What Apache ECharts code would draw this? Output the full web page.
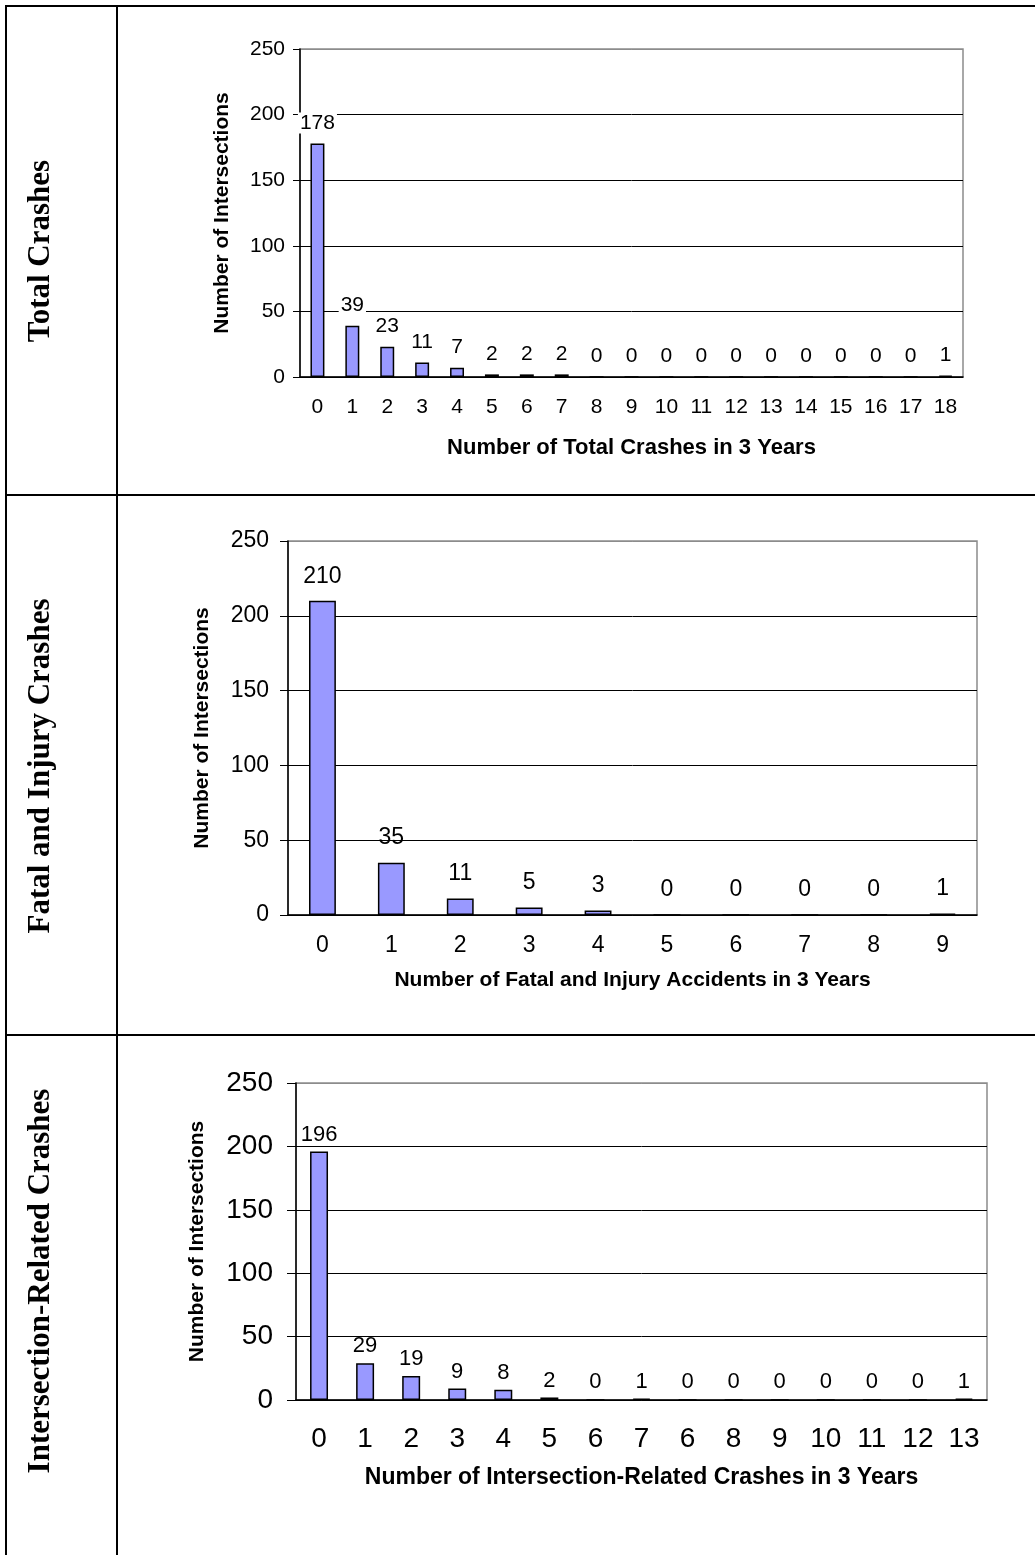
<!DOCTYPE html>
<html>
<head>
<meta charset="utf-8">
<script src="https://cdn.jsdelivr.net/npm/echarts@6/dist/echarts.min.js"></script>
<style>
  html, body { margin: 0; padding: 0; background: #fff; }
  #main { width: 1035px; height: 1555px; }
</style>
</head>
<body>
<div id="main"></div>
<script>
// data
const totalCats = ['0', '1', '2', '3', '4', '5', '6', '7', '8', '9', '10', '11', '12', '13', '14', '15', '16', '17', '18'];
const totalValues = [178, 39, 23, 11, 7, 2, 2, 2, 0, 0, 0, 0, 0, 0, 0, 0, 0, 0, 1];

const fatalCats = ['0', '1', '2', '3', '4', '5', '6', '7', '8', '9'];
const fatalValues = [210, 35, 11, 5, 3, 0, 0, 0, 0, 1];

// the source chart really does repeat "6" after "7"
const interCats = ['0', '1', '2', '3', '4', '5', '6', '7', '6', '8', '9', '10', '11', '12', '13'];
const interValues = [196, 29, 19, 9, 8, 2, 0, 1, 0, 0, 0, 0, 0, 0, 1];

const rowTitles = ['Total Crashes', 'Fatal and Injury Crashes', 'Intersection-Related Crashes'];
const xTitles = [
    'Number of Total Crashes in 3 Years',
    'Number of Fatal and Injury Accidents in 3 Years',
    'Number of Intersection-Related Crashes in 3 Years'
];
const yTitle = 'Number of Intersections';
const yMax = 250;
const yStep = 50;

const FONT = '"Liberation Sans", Arial, sans-serif';

// layout of each panel (pixels)
const panels = [
    { cats: totalCats, values: totalValues, left: 300, top: 49, width: 663, height: 328,
      tickFont: 21, dataFont: 21, xNameFont: 22, yNameFont: 21, barWidth: '40%',
      tickLen: 7, yMargin: 15, xMargin: 20, xNameGap: 60, yNameGap: 67, labelDist: 10, labelBg: '#fff', rowY: 251 },
    { cats: fatalCats, values: fatalValues, left: 288, top: 541, width: 689, height: 374,
      tickFont: 23, dataFont: 23, xNameFont: 21, yNameFont: 21, barWidth: '39%',
      tickLen: 8, yMargin: 19, xMargin: 19, xNameGap: 55, yNameGap: 75, labelDist: 13, labelBg: 'transparent', rowY: 766 },
    { cats: interCats, values: interValues, left: 296, top: 1083, width: 691, height: 317,
      tickFont: 28, dataFont: 22, xNameFont: 23, yNameFont: 21, barWidth: '39%',
      tickLen: 9, yMargin: 23, xMargin: 25, xNameGap: 66, yNameGap: 88, labelDist: 6, labelBg: 'transparent', rowY: 1281 }
];

const grid = [], xAxis = [], yAxis = [], series = [];
panels.forEach((p, i) => {
    grid.push({
        left: p.left, top: p.top, width: p.width, height: p.height,
        show: true, borderColor: '#8c8c8c', borderWidth: 1.5,
        outerBoundsMode: 'none'
    });
    xAxis.push({
        type: 'category', gridIndex: i, data: p.cats,
        axisLine: { lineStyle: { color: '#000', width: 1.5 } },
        axisTick: { length: p.tickLen, lineStyle: { color: '#000' } },
        axisLabel: { interval: 0, margin: p.xMargin, fontSize: p.tickFont, color: '#000', fontFamily: FONT },
        splitLine: { show: false },
        name: xTitles[i], nameLocation: 'middle', nameGap: p.xNameGap,
        nameTextStyle: { fontWeight: 'bold', fontSize: p.xNameFont, color: '#000', fontFamily: FONT }
    });
    yAxis.push({
        type: 'value', gridIndex: i, min: 0, max: yMax, interval: yStep,
        axisLine: { show: true, lineStyle: { color: '#000', width: 1.5 } },
        axisTick: { show: true, length: p.tickLen, lineStyle: { color: '#000' } },
        axisLabel: { margin: p.yMargin, fontSize: p.tickFont, color: '#000', fontFamily: FONT },
        splitLine: { show: true, lineStyle: { color: ['#000', '#000', '#000', '#000', '#000', '#8c8c8c'], width: 1 } },
        name: yTitle, nameLocation: 'middle', nameGap: p.yNameGap,
        nameTextStyle: { fontWeight: 'bold', fontSize: p.yNameFont, color: '#000', fontFamily: FONT }
    });
    series.push({
        type: 'bar', xAxisIndex: i, yAxisIndex: i, data: p.values,
        barWidth: p.barWidth,
        itemStyle: { color: '#9999ff', borderColor: '#000', borderWidth: 1.5 },
        label: {
            show: true, position: 'top', distance: p.labelDist,
            fontSize: p.dataFont, color: '#000', fontFamily: FONT,
            backgroundColor: p.labelBg, padding: [0, 2]
        },
        animation: false
    });
});

// table frame and row headings
const graphic = [];
const tableLines = [
    [5, 6, 1035, 6], [6, 5, 6, 1555], [117, 5, 117, 1555],
    [5, 495, 1035, 495], [5, 1035, 1035, 1035]
];
tableLines.forEach(l => graphic.push({
    type: 'line', shape: { x1: l[0], y1: l[1], x2: l[2], y2: l[3] },
    style: { stroke: '#000', lineWidth: 2 }, z: 10
}));
panels.forEach((p, i) => graphic.push({
    type: 'text', x: 41, y: p.rowY, rotation: Math.PI / 2,
    style: {
        text: rowTitles[i], fill: '#000',
        font: 'bold 31px "Liberation Serif", "Times New Roman", serif',
        align: 'center', verticalAlign: 'middle',
        textAlign: 'center', textVerticalAlign: 'middle'
    }
}));

const myChart = echarts.init(document.getElementById('main'), null, { renderer: 'canvas' });
myChart.setOption({
    backgroundColor: '#fff',
    animation: false,
    grid: grid,
    xAxis: xAxis,
    yAxis: yAxis,
    series: series,
    graphic: graphic
});
</script>
</body>
</html>
